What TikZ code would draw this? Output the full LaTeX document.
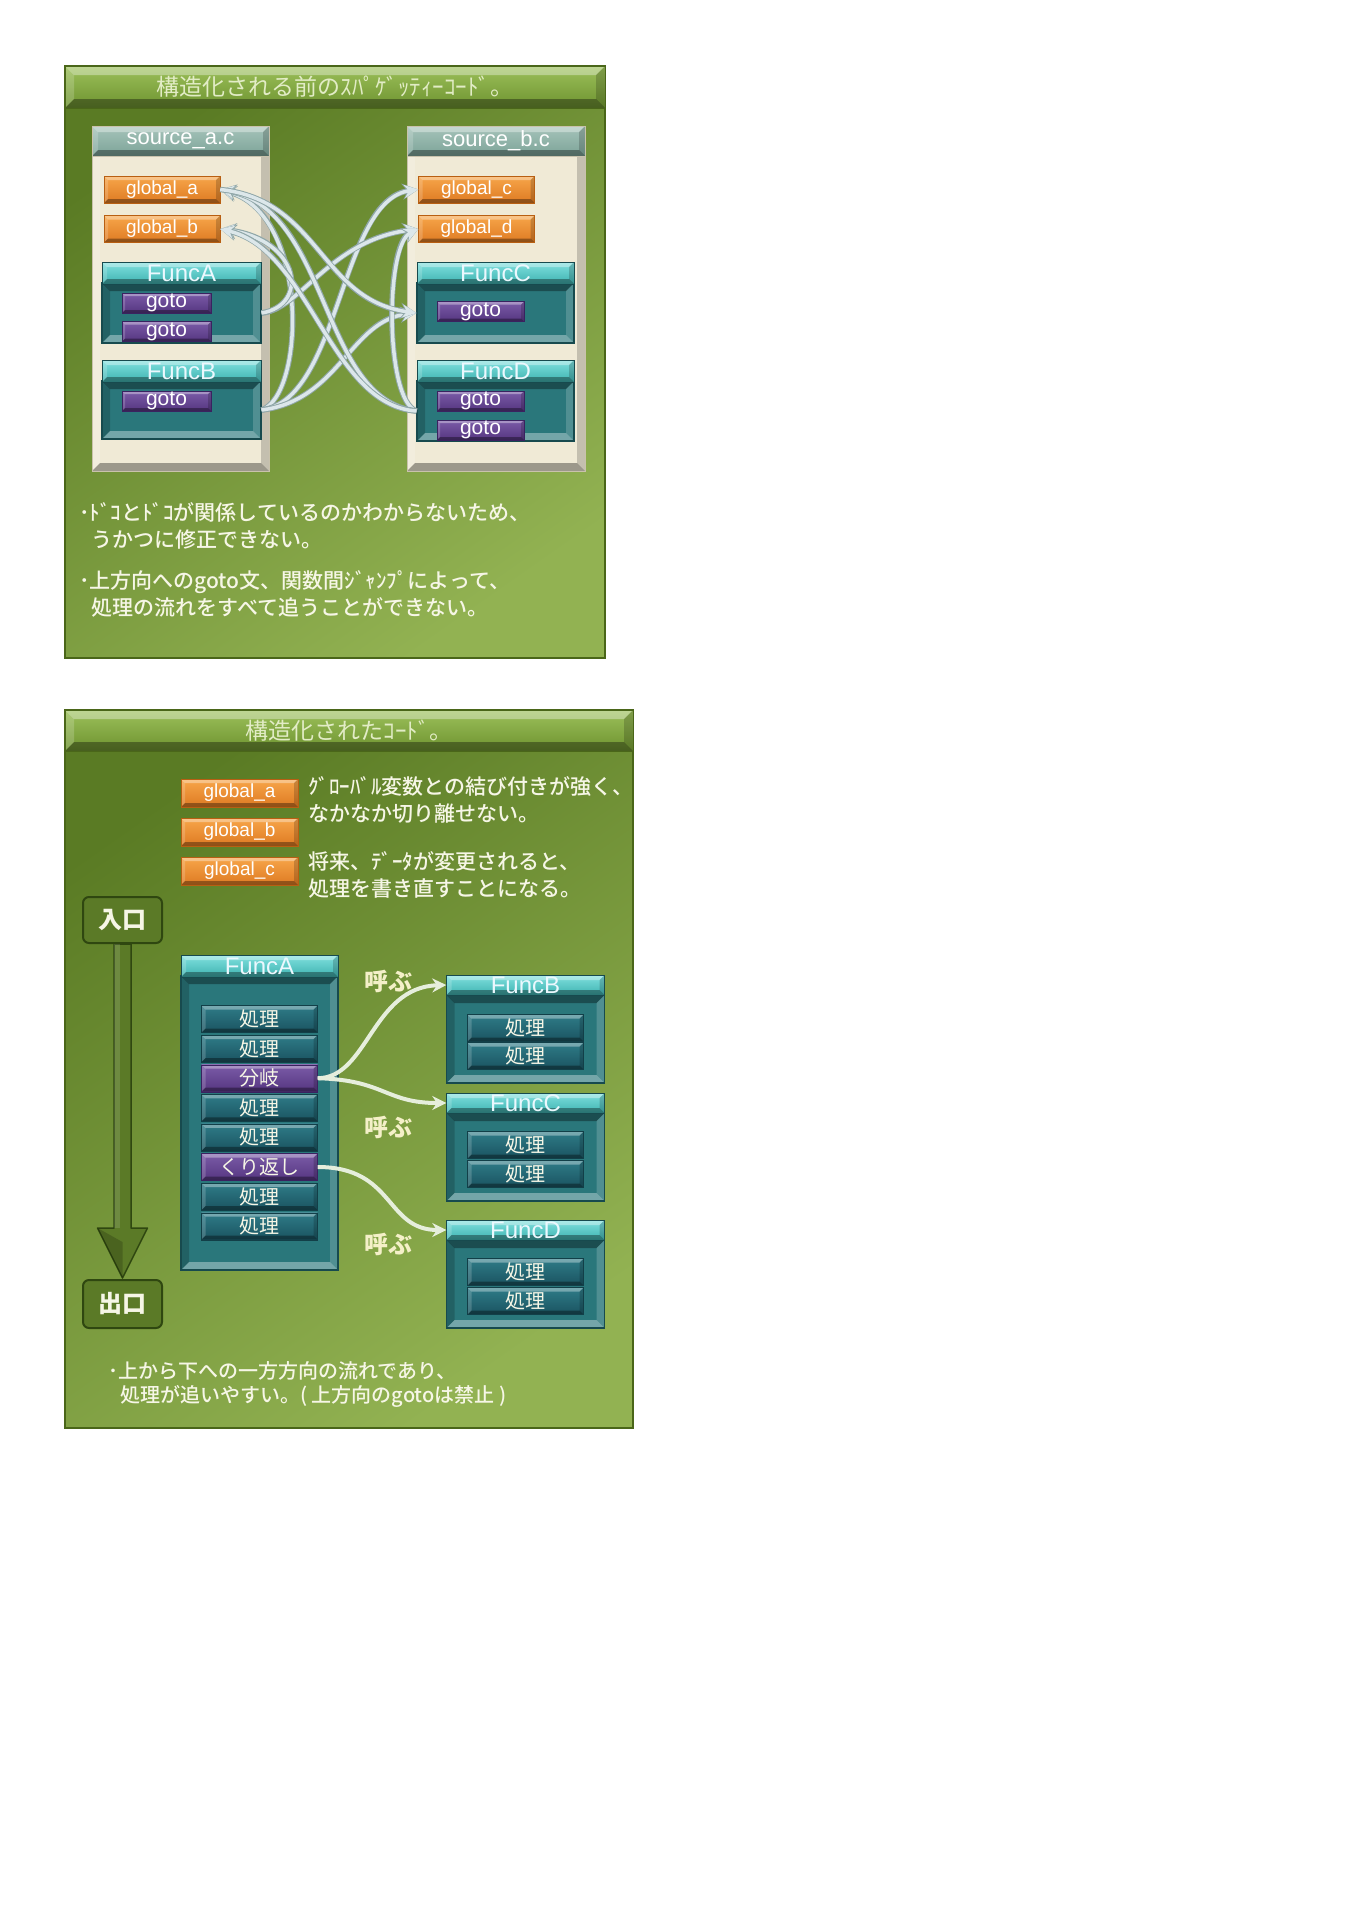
\documentclass[tikz,border=0pt]{standalone}
\usepackage{fontspec}
\setmainfont{Noto Sans CJK JP}
\newfontfamily\jpnote{Noto Sans CJK JP}[UprightFont=* Medium]
\newfontfamily\latn{Liberation Sans}
\usetikzlibrary{arrows.meta}

\definecolor{olvdark}{HTML}{5A7B24}
\definecolor{olvlight}{HTML}{92B252}
\definecolor{olvline}{HTML}{4A6619}
\definecolor{bartop}{HTML}{9CC05A}
\definecolor{barbot}{HTML}{6E9330}
\definecolor{titletxt}{HTML}{E2ECC6}
\definecolor{cream}{HTML}{F0EAD6}
\definecolor{srcline}{HTML}{C9C2AC}
\definecolor{srctop}{HTML}{A6C4BA}
\definecolor{srcbot}{HTML}{7CA398}
\definecolor{orgtop}{HTML}{F7A64A}
\definecolor{orgbot}{HTML}{DE7A22}
\definecolor{orgline}{HTML}{B85F12}
\definecolor{cyantop}{HTML}{7FE0DE}
\definecolor{cyanbot}{HTML}{3FB3B1}
\definecolor{tealfill}{HTML}{2A777B}
\definecolor{tealline}{HTML}{174A4E}
\definecolor{purptop}{HTML}{7B5CA8}
\definecolor{purpbot}{HTML}{553580}
\definecolor{purpline}{HTML}{3A2260}
\definecolor{proctop}{HTML}{2F7C88}
\definecolor{procbot}{HTML}{1A5360}
\definecolor{procline}{HTML}{123F48}
\definecolor{doorfill}{HTML}{5B7A27}
\definecolor{doorline}{HTML}{2F4710}
\definecolor{linkcol}{HTML}{DCE7EA}
\definecolor{linkedge}{HTML}{8FA6A8}
\definecolor{callcol}{HTML}{E6EEDC}
\definecolor{notetxt}{HTML}{F6F6E6}
\definecolor{yobutxt}{HTML}{F4F0C8}

% bevel bands drawn inside a node: width, top/left colour, bottom/right colour
\newcommand{\bevelpic}[3]{%
  \path (path picture bounding box.north west) coordinate (bnw)
        (path picture bounding box.south east) coordinate (bse);
  \fill[#2,opacity=.35] (bnw) -- (bnw-|bse) -- ([xshift=-#1,yshift=-#1]bnw-|bse) -- ([xshift=#1,yshift=-#1]bnw) -- cycle;
  \fill[#2,opacity=.18] (bnw) -- ([xshift=#1,yshift=-#1]bnw) -- ([xshift=#1,yshift=#1]bnw|-bse) -- (bnw|-bse) -- cycle;
  \fill[#3,opacity=.35] (bnw|-bse) -- (bse) -- ([xshift=-#1,yshift=#1]bse) -- ([xshift=#1,yshift=#1]bnw|-bse) -- cycle;
  \fill[#3,opacity=.18] (bse) -- (bnw-|bse) -- ([xshift=-#1,yshift=-#1]bnw-|bse) -- ([xshift=-#1,yshift=#1]bse) -- cycle;}

\tikzset{
  bevel/.style={path picture={\bevelpic{#1}{white}{black}}},
  sunk/.style={path picture={\bevelpic{#1}{black}{white}}},
  panel/.style={draw=olvline, line width=1.5pt, top color=olvdark, bottom color=olvlight, shading angle=35},
  titlebar/.style={draw=olvline, top color=bartop, bottom color=barbot, bevel=9pt, text=titletxt, inner sep=0pt, font=\fontsize{23}{23}\selectfont},
  srcbox/.style={fill=cream, draw=srcline, line width=1pt, bevel=8pt},
  srchead/.style={top color=srctop, bottom color=srcbot, draw=srcline, bevel=6pt, text=white, inner sep=0pt, font=\latn\fontsize{22}{22}\selectfont},
  glob/.style={minimum width=116pt, minimum height=27pt, top color=orgtop, bottom color=orgbot, draw=orgline, bevel=4pt, text=white, inner sep=0pt, font=\latn\fontsize{19}{19}\selectfont},
  funchead/.style={minimum height=22pt, top color=cyantop, bottom color=cyanbot, draw=tealline, bevel=5pt, text=white!92!cyan, inner sep=0pt, font=\latn\fontsize{24}{24}\selectfont},
  funcbody/.style={fill=tealfill, draw=tealline, line width=1.2pt, sunk=8pt},
  gotobox/.style={minimum width=89pt, minimum height=20pt, top color=purptop, bottom color=purpbot, draw=purpline, bevel=3pt, text=white, inner sep=0pt, font=\latn\fontsize{21}{21}\selectfont},
  proc/.style={minimum width=116pt, minimum height=27pt, top color=proctop, bottom color=procbot, draw=procline, bevel=4pt, text=notetxt, inner sep=0pt, font=\fontsize{20}{20}\selectfont},
  branch/.style={proc, top color=purptop, bottom color=purpbot, draw=purpline},
  door/.style={minimum width=79pt, minimum height=46pt, fill=doorfill, draw=doorline, line width=2pt, rounded corners=6pt, text=notetxt, font=\bfseries\fontsize{24}{24}\selectfont},
  note/.style={text=notetxt, align=left, inner sep=0pt, font=\jpnote\fontsize{21}{27}\selectfont},
  yobu/.style={text=yobutxt, font=\bfseries\fontsize{24}{24}\selectfont},
  link/.style={draw=linkcol, line width=3.5pt, -{Stealth[length=14pt,width=13pt]},
    preaction={draw=linkedge, line width=5.5pt, -{Stealth[length=16pt,width=16pt]}}},
  call/.style={draw=callcol, line width=4pt, -{Stealth[length=14pt,width=14pt]}},
  flow/.style={fill=doorfill, draw=doorline, line width=1.5pt, line join=round}
}

\begin{document}
\begin{tikzpicture}[x=1pt,y=-1pt]
\useasboundingbox (0,0) rectangle (1363,1920);
\fill[white] (0,0) rectangle (1363,1920);

% before: spaghetti code
\node[panel, minimum width=540pt, minimum height=592pt] (pnlA) at (335,362) {};
\node[titlebar, minimum width=540pt, minimum height=42pt] (ttlA) at (335,87) {構造化される前のｽﾊﾟｹﾞｯﾃｨｰｺｰﾄﾞ。};

\node[srcbox, minimum width=177pt, minimum height=345pt] (srcA) at (180.5,298.5) {};
\node[srchead, minimum width=177pt, minimum height=30pt] (srcAh) at (180.5,141) {source\_a.c};
\node[srcbox, minimum width=178pt, minimum height=345pt] (srcB) at (496,298.5) {};
\node[srchead, minimum width=178pt, minimum height=30pt] (srcBh) at (496,141) {source\_b.c};

\node[glob] (gA) at (162,189.5) {global\_a};
\node[glob] (gB) at (162,229) {global\_b};
\node[glob] (gC) at (476.5,189.5) {global\_c};
\node[glob] (gD) at (476.5,229) {global\_d};

\node[funcbody, minimum width=159pt, minimum height=60pt] (fA) at (181.5,313) {};
\node[funchead, minimum width=159pt] (fAh) at (181.5,273) {FuncA};
\node[gotobox] (ga1) at (166.5,303) {goto};
\node[gotobox] (ga2) at (166.5,331.5) {goto};
\node[funcbody, minimum width=159pt, minimum height=58pt] (fB) at (181.5,410) {};
\node[funchead, minimum width=159pt] (fBh) at (181.5,371) {FuncB};
\node[gotobox] (gb1) at (166.5,401) {goto};

\node[funcbody, minimum width=157pt, minimum height=60pt] (fC) at (495.5,313) {};
\node[funchead, minimum width=157pt] (fCh) at (495.5,273) {FuncC};
\node[gotobox, minimum width=87pt] (gc1) at (480.5,311.5) {goto};
\node[funcbody, minimum width=157pt, minimum height=60pt] (fD) at (495.5,411) {};
\node[funchead, minimum width=157pt] (fDh) at (495.5,371) {FuncD};
\node[gotobox, minimum width=87pt] (gd1) at (480.5,401) {goto};
\node[gotobox, minimum width=87pt] (gd2) at (480.5,430) {goto};

\draw[link] (fB.east) .. controls (305,395) and (310,215) .. (gA.east);
\draw[link] (fB.east) .. controls (340,400) and (340,200) .. (gC.west);
\draw[link] (fB.east) .. controls (340,400) and (350,320) .. (fC.west);
\draw[link] (fA.east) .. controls (300,310) and (330,240) .. (gD.west);
\draw[link] (fA.east) .. controls (310,305) and (300,240) .. (gB.east);
\draw[link] (fD.west) .. controls (385,400) and (385,245) .. (gD.west);
\draw[link] (fD.west) .. controls (320,400) and (330,210) .. (gA.east);
\draw[link] (fD.west) .. controls (330,405) and (310,250) .. (gB.east);
\draw[link] (gA.east) .. controls (320,200) and (320,300) .. (fC.west);

\node[note, anchor=west] (nA1) at (79,525.5) {･ﾄﾞｺとﾄﾞｺが関係しているのかわからないため、\\\hspace{0.6em}うかつに修正できない。};
\node[note, anchor=west] (nA2) at (79,593.5) {･上方向へのgoto文、関数間ｼﾞｬﾝﾌﾟによって、\\\hspace{0.6em}処理の流れをすべて追うことができない。};

% after: structured code
\node[panel, minimum width=568pt, minimum height=718pt] (pnlB) at (349,1069) {};
\node[titlebar, minimum width=568pt, minimum height=41pt] (ttlB) at (349,730.5) {構造化されたｺｰﾄﾞ。};

\node[glob, minimum width=117pt, minimum height=28pt] (hA) at (239.5,793) {global\_a};
\node[glob, minimum width=117pt, minimum height=28pt] (hB) at (239.5,832) {global\_b};
\node[glob, minimum width=117pt, minimum height=28pt] (hC) at (239.5,871) {global\_c};
\node[note, anchor=west] (txtA) at (308,799.5) {ｸﾞﾛｰﾊﾞﾙ変数との結び付きが強く、\\なかなか切り離せない。};
\node[note, anchor=west] (txtB) at (308,874.5) {将来、ﾃﾞｰﾀが変更されると、\\処理を書き直すことになる。};

\node[door] (entry) at (122.5,920) {入口};
\node[door, minimum height=48pt] (exit) at (122.5,1304) {出口};
\coordinate (neck) at (122.5,1228);
\coordinate (tip) at (122.5,1278);
\filldraw[flow] ([xshift=-8.5pt]entry.south) -- ([xshift=-8.5pt]neck) -- ([xshift=-25pt]neck)
  -- (tip) -- ([xshift=25pt]neck) -- ([xshift=8.5pt]neck) -- ([xshift=8.5pt]entry.south) -- cycle;
\fill[black, opacity=.18] (tip) -- ([xshift=-25pt]neck) -- ([yshift=-14pt]neck) -- cycle;
\fill[white, opacity=.12] ([xshift=-8.5pt]entry.south) rectangle ([xshift=-3pt]neck);

\node[funcbody, minimum width=157pt, minimum height=294pt] (mainF) at (259.5,1123) {};
\node[funchead, minimum width=157pt] (mainFh) at (259.5,966) {FuncA};
\foreach \t/\s [count=\i] in {処理/proc,処理/proc,分岐/branch,処理/proc,処理/proc,くり返し/branch,処理/proc,処理/proc}
  \node[\s] (st\i) at (259.5,{989.4+29.6*\i}) {\t};

\node[funcbody, minimum width=158pt, minimum height=88pt] (fnB) at (525.5,1039) {};
\node[funchead, minimum width=158pt, minimum height=20pt] (fnBh) at (525.5,985) {FuncB};
\node[proc] (b1) at (525.5,1028) {処理};
\node[proc] (b2) at (525.5,1056) {処理};
\node[funcbody, minimum width=158pt, minimum height=88pt] (fnC) at (525.5,1157) {};
\node[funchead, minimum width=158pt, minimum height=20pt] (fnCh) at (525.5,1103) {FuncC};
\node[proc] (c1) at (525.5,1145) {処理};
\node[proc] (c2) at (525.5,1174) {処理};
\node[funcbody, minimum width=158pt, minimum height=88pt] (fnD) at (525.5,1284) {};
\node[funchead, minimum width=158pt, minimum height=20pt] (fnDh) at (525.5,1230) {FuncD};
\node[proc] (d1) at (525.5,1272) {処理};
\node[proc] (d2) at (525.5,1301) {処理};

\draw[call] (st3.east) .. controls (368,1078) and (372,987) .. (fnBh.west);
\draw[call] (st3.east) .. controls (385,1080) and (385,1103) .. (fnCh.west);
\draw[call] (st6.east) .. controls (395,1167) and (385,1230) .. (fnDh.west);
\node[yobu] (y1) at (388,981) {呼ぶ};
\node[yobu] (y2) at (388,1127) {呼ぶ};
\node[yobu] (y3) at (388,1244) {呼ぶ};

\node[note, anchor=west, font=\jpnote\fontsize{20}{24}\selectfont] (nB) at (108,1384) {･上から下への一方方向の流れであり、\\\hspace{0.6em}処理が追いやすい。( 上方向のgotoは禁止 )};
\end{tikzpicture}
\end{document}
